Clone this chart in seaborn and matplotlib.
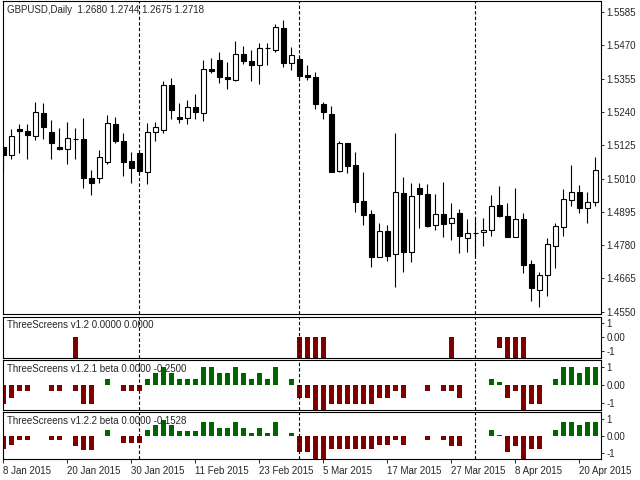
import numpy as np
import pandas as pd
import seaborn as sns
import matplotlib
matplotlib.use('Agg')
import matplotlib.pyplot as plt

# daily GBPUSD bars, 8 Jan - 22 Apr 2015
dates = pd.bdate_range('2015-01-08', '2015-04-22')

opens = [1.5120, 1.5090, 1.5181, 1.5174, 1.5158, 1.5236, 1.5171, 1.5118, 1.5113, 1.5146,
         1.5146, 1.5012, 1.5011, 1.5067, 1.5198, 1.5139, 1.5070, 1.5098, 1.5033, 1.5170,
         1.5179, 1.5333, 1.5222, 1.5218, 1.5257, 1.5235, 1.5388, 1.5418, 1.5361, 1.5350,
         1.5440, 1.5416, 1.5401, 1.5460, 1.5454, 1.5529, 1.5408, 1.5422, 1.5367, 1.5361,
         1.5267, 1.5233, 1.5037, 1.5132, 1.5057, 1.4932, 1.4886, 1.4740, 1.4828, 1.4748,
         1.4960, 1.4757, 1.4976, 1.4956, 1.4848, 1.4886, 1.4855, 1.4891, 1.4803, 1.4823,
         1.4826, 1.4832, 1.4917, 1.4880, 1.4809, 1.4869, 1.4714, 1.4624, 1.4678, 1.4778,
         1.4841, 1.4935, 1.4963, 1.4907, 1.4928]
highs = [1.5123, 1.5180, 1.5198, 1.5198, 1.5273, 1.5271, 1.5213, 1.5185, 1.5204, 1.5185,
         1.5218, 1.5039, 1.5108, 1.5228, 1.5223, 1.5166, 1.5100, 1.5099, 1.5201, 1.5204,
         1.5347, 1.5357, 1.5270, 1.5281, 1.5302, 1.5418, 1.5426, 1.5447, 1.5411, 1.5485,
         1.5468, 1.5454, 1.5477, 1.5479, 1.5544, 1.5557, 1.5465, 1.5437, 1.5402, 1.5378,
         1.5274, 1.5260, 1.5140, 1.5133, 1.5100, 1.5031, 1.4901, 1.4855, 1.4848, 1.5166,
         1.5014, 1.4995, 1.4993, 1.4991, 1.4956, 1.4998, 1.4926, 1.4905, 1.4871, 1.4874,
         1.4873, 1.4952, 1.4984, 1.4926, 1.4976, 1.4892, 1.4729, 1.4687, 1.4806, 1.4855,
         1.4973, 1.5057, 1.4988, 1.4964, 1.5083]
lows = [1.5037, 1.5078, 1.5099, 1.5078, 1.5143, 1.5145, 1.5078, 1.5109, 1.5061, 1.5077,
        1.4978, 1.4952, 1.4993, 1.5060, 1.5134, 1.5020, 1.4993, 1.5022, 1.4991, 1.5141,
        1.5168, 1.5214, 1.5203, 1.5199, 1.5215, 1.5210, 1.5373, 1.5341, 1.5319, 1.5347,
        1.5405, 1.5346, 1.5335, 1.5401, 1.5448, 1.5396, 1.5385, 1.5350, 1.5349, 1.5251,
        1.5217, 1.5032, 1.5032, 1.5030, 1.4895, 1.4849, 1.4703, 1.4739, 1.4726, 1.4636,
        1.4688, 1.4723, 1.4840, 1.4841, 1.4832, 1.4808, 1.4798, 1.4754, 1.4756, 1.4740,
        1.4778, 1.4811, 1.4876, 1.4807, 1.4808, 1.4683, 1.4588, 1.4567, 1.4605, 1.4702,
        1.4811, 1.4916, 1.4890, 1.4857, 1.4916]
closes = [1.5091, 1.5157, 1.5173, 1.5161, 1.5239, 1.5187, 1.5134, 1.5113, 1.5150, 1.5145,
          1.5013, 1.4993, 1.5084, 1.5201, 1.5141, 1.5068, 1.5047, 1.5037, 1.5170, 1.5188,
          1.5333, 1.5248, 1.5214, 1.5256, 1.5239, 1.5388, 1.5382, 1.5362, 1.5353, 1.5440,
          1.5417, 1.5403, 1.5460, 1.5459, 1.5533, 1.5408, 1.5435, 1.5365, 1.5362, 1.5268,
          1.5241, 1.5033, 1.5132, 1.5054, 1.4930, 1.4884, 1.4740, 1.4828, 1.4742, 1.4963,
          1.4757, 1.4950, 1.4955, 1.4846, 1.4886, 1.4854, 1.4873, 1.4812, 1.4822, 1.4822,
          1.4833, 1.4914, 1.4882, 1.4808, 1.4869, 1.4712, 1.4633, 1.4676, 1.4783, 1.4845,
          1.4938, 1.4963, 1.4909, 1.4929, 1.5038]

# ThreeScreens histograms
screen1 = [0, 0, 0, 0, 0, 0, 0, 0, 0, -1.5,
           0, 0, 0, 0, 0, 0, 0, 0, 0, 0,
           0, 0, 0, 0, 0, 0, 0, 0, 0, 0,
           0, 0, 0, 0, 0, 0, 0, -1.5, -1.5, -1.5,
           -1.5, 0, 0, 0, 0, 0, 0, 0, 0, 0,
           0, 0, 0, 0, 0, 0, -1.5, 0, 0, 0,
           0, 0, -0.8, -1.5, -1.5, -1.5, 0, 0, 0, 0,
           0, 0, 0, 0, 0]
screen2 = [-1.05, -0.7, -0.35, -0.35, 0, 0, -0.35, -0.35, 0, -0.35,
           -1.05, -1.05, 0, 0.33, 0, -0.35, -0.35, -0.35, 0.33, 0.67,
           1.0, 0.67, 0.33, 0.33, 0.33, 1.0, 1.0, 0.67, 0.67, 1.0,
           0.67, 0.33, 0.67, 0.33, 1.0, 0, 0.33, -0.7, -0.7, -1.4,
           -1.4, -1.05, -1.05, -1.05, -1.05, -1.05, -1.05, -0.7, -0.7, -0.35,
           -0.7, 0, 0, -0.35, 0, -0.35, -0.35, -0.7, 0, 0,
           0, 0.33, 0.18, -0.7, -0.35, -1.4, -1.05, -1.05, 0, 0.33,
           1.0, 1.0, 0.67, 1.0, 1.0]
screen3 = [-0.8, -0.52, -0.22, -0.22, 0, 0, -0.22, -0.22, 0, -0.58,
           -0.84, -0.84, 0, 0.36, 0, -0.4, -0.4, -0.4, 0.36, 0.66,
           0.98, 0.66, 0.32, 0.32, 0.32, 0.84, 0.84, 0.5, 0.5, 0.84,
           0.5, 0.18, 0.5, 0.18, 0.84, 0, 0.18, -0.94, -0.94, -1.4,
           -1.4, -0.8, -0.8, -0.8, -0.8, -0.8, -0.8, -0.52, -0.52, -0.22,
           -0.52, 0, 0, -0.22, 0, -0.22, -0.58, -0.58, 0, 0,
           0, 0.36, 0.04, -0.94, -0.58, -1.4, -0.8, -0.8, 0, 0.36,
           0.84, 0.84, 0.66, 0.84, 0.84]

price_ticks = [1.5585, 1.5470, 1.5355, 1.5240, 1.5125, 1.5010, 1.4895, 1.4780, 1.4665, 1.4550]
month_starts = ['2015-02-02', '2015-03-02', '2015-04-01']

panel_titles = ['ThreeScreens v1.2 0.0000 0.0000',
                'ThreeScreens v1.2.1 beta 0.0000 -0.2500',
                'ThreeScreens v1.2.2 beta 0.0000 -0.1528']

sns.set_style('white')
plt.rcParams['font.family'] = ['Liberation Sans', 'DejaVu Sans']
plt.rcParams['font.size'] = 7

n = len(dates)
xs = np.arange(n)
o = np.array(opens)
c = np.array(closes)

fig = plt.figure(figsize=(6.4, 4.8), dpi=100)
left, width = 2.7 / 640, (601 - 2.7) / 640
ax = fig.add_axes([left, 0.3458, width, 0.6527])
ax1 = fig.add_axes([left, 0.2535, width, 0.0867], sharex=ax)
ax2 = fig.add_axes([left, 0.1458, width, 0.1042], sharex=ax)
ax3 = fig.add_axes([left, 0.04375, width, 0.0973], sharex=ax)

# candles
ax.vlines(xs, lows, highs, color='black', lw=0.8, zorder=2)
body_col = np.where(c > o, 'white', 'black')
ax.bar(xs, np.abs(c - o), bottom=np.minimum(o, c), width=0.55,
       color=body_col, edgecolor='black', linewidth=0.8, zorder=3)
ax.set_ylim(1.4542, 1.5624)
ax.set_yticks(price_ticks)
ax.set_yticklabels([f'{p:.4f}' for p in price_ticks])

pal = {'up': '#006400', 'down': '#800000'}
limits = [(-1.516, 1.487), (-1.389, 1.389), (-1.38, 1.42)]
for a, vals, lim in zip([ax1, ax2, ax3], [screen1, screen2, screen3], limits):
    v = np.array(vals)
    df = pd.DataFrame({'bar': xs, 'value': v, 'side': np.where(v >= 0, 'up', 'down')})
    sns.barplot(data=df, x='bar', y='value', hue='side', palette=pal, native_scale=True,
                dodge=False, width=0.65, saturation=1, legend=False, errorbar=None,
                linewidth=0, ax=a)
    a.set_ylim(*lim)
    a.set_yticks([1, 0, -1])
    a.set_yticklabels(['1', '0.00', '-1'])
    a.set_xlabel('')
    a.set_ylabel('')

month_idx = [dates.get_loc(pd.Timestamp(d)) for d in month_starts]
for a in [ax, ax1, ax2, ax3]:
    for m in month_idx:
        a.axvline(m, color='black', lw=0.8, ls=(0, (3, 2)), zorder=1)
    a.yaxis.tick_right()
    a.tick_params(axis='y', direction='out', length=2.5, width=0.7, pad=1.5,
                  labelsize=7, right=True, left=False)
    for s in a.spines.values():
        s.set_color('black')
        s.set_linewidth(0.8)
    if a is not ax3:
        a.tick_params(axis='x', bottom=False, labelbottom=False)

ax.set_xlim(-0.075, 74.71)
tick_pos = list(range(0, n, 8))
ax3.set_xticks(tick_pos)
ax3.set_xticklabels([f'{dates[i].day} {dates[i]:%b %Y}' for i in tick_pos], ha='left')
ax3.tick_params(axis='x', direction='out', length=3, width=0.7, pad=2, labelsize=7, bottom=True)

fig.text(7 / 640, 1 - 10 / 480, 'GBPUSD,Daily  1.2680 1.2744 1.2675 1.2718',
         va='center', fontsize=7)
for title, ypx in zip(panel_titles, [325, 369.3, 421]):
    fig.text(7.3 / 640, 1 - ypx / 480, title, va='center', fontsize=7)

fig.savefig('out.png', dpi=100)
